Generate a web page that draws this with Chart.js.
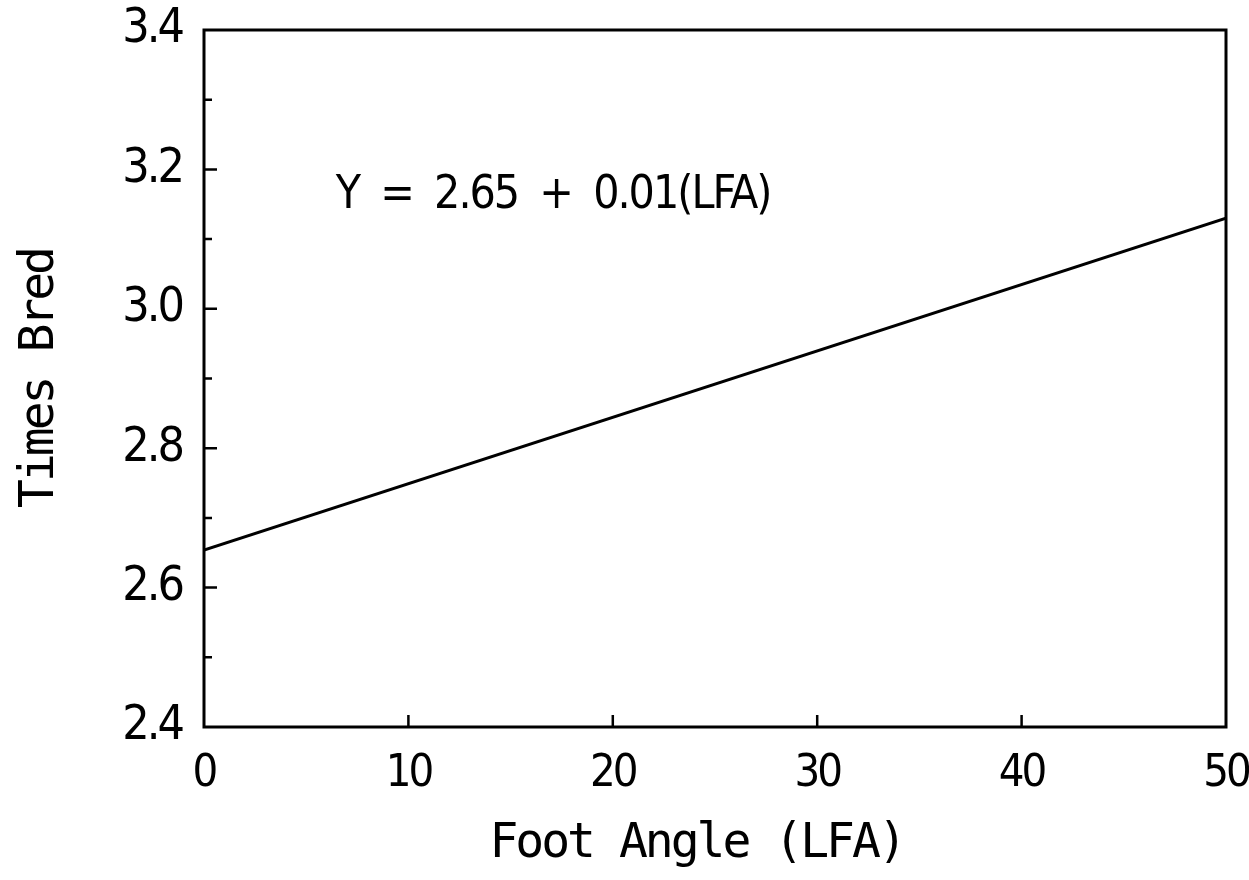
<!DOCTYPE html>
<html><head><meta charset="utf-8">
<script src="https://cdn.jsdelivr.net/npm/chart.js@4.4.1/dist/chart.umd.min.js"></script>
<style>html,body{margin:0;padding:0;background:#fff;}#wrap{width:1249px;height:880px;}</style>
</head><body><div id="wrap"><canvas id="c" width="1249" height="880"></canvas></div>
<script>
const footAngle = [0, 50];
const timesBred = [2.654, 3.13];
const xTicks = [0, 10, 20, 30, 40, 50];
const yTicks = [2.4, 2.6, 2.8, 3.0, 3.2, 3.4];
const yMinorTicks = [2.5, 2.7, 2.9, 3.1, 3.3];
const equationText = 'Y = 2.65 + 0.01(LFA)';
const equationPos = {x: 6.45, y: 3.162};
const xTitle = 'Foot Angle (LFA)';
const xTitleCenter = 24.1;
const yTitle = 'Times Bred';

const COND = '"DejaVu Sans Condensed", "DejaVu Sans", sans-serif';
const MONO = '"DejaVu Sans Mono", monospace';

const framePlugin = {
  id: 'frame',
  beforeDraw(chart) {
    chart.ctx.letterSpacing = '-3px';
  },
  afterDraw(chart) {
    const {ctx, chartArea: a, scales: {x, y}} = chart;
    ctx.save();
    ctx.strokeStyle = '#000';
    ctx.lineWidth = 3;
    ctx.strokeRect(a.left, a.top, a.right - a.left, a.bottom - a.top);
    ctx.lineWidth = 2.5;
    ctx.beginPath();
    xTicks.slice(1, -1).forEach(v => {
      const px = x.getPixelForValue(v);
      ctx.moveTo(px, a.bottom); ctx.lineTo(px, a.bottom - 12);
    });
    yTicks.slice(1, -1).forEach(v => {
      const py = y.getPixelForValue(v);
      ctx.moveTo(a.left, py); ctx.lineTo(a.left + 13, py);
    });
    yMinorTicks.forEach(v => {
      const py = y.getPixelForValue(v);
      ctx.moveTo(a.left, py); ctx.lineTo(a.left + 8, py);
    });
    ctx.stroke();
    ctx.fillStyle = '#000';
    ctx.letterSpacing = '-2px';
    ctx.wordSpacing = '10px';
    ctx.font = '46px ' + COND;
    ctx.textBaseline = 'middle';
    ctx.textAlign = 'left';
    ctx.fillText(equationText, x.getPixelForValue(equationPos.x), y.getPixelForValue(equationPos.y));
    ctx.wordSpacing = '0px';
    ctx.letterSpacing = '-3px';
    ctx.font = '48px ' + MONO;
    ctx.textAlign = 'center';
    ctx.fillText(xTitle, x.getPixelForValue(xTitleCenter), a.bottom + 118);
    ctx.restore();
    ctx.letterSpacing = '0px';
  }
};

new Chart(document.getElementById('c'), {
  type: 'scatter',
  data: {
    datasets: [{
      data: footAngle.map((v, i) => ({x: v, y: timesBred[i]})),
      showLine: true,
      borderColor: '#000',
      borderWidth: 3,
      pointRadius: 0,
      fill: false
    }]
  },
  options: {
    responsive: false,
    animation: false,
    layout: {padding: {top: 30, right: 23, left: 0, bottom: 0}},
    plugins: {legend: {display: false}, tooltip: {enabled: false}},
    scales: {
      x: {
        type: 'linear', min: 0, max: 50,
        afterBuildTicks(s) { s.ticks = xTicks.map(v => ({value: v})); },
        grid: {display: false},
        border: {display: false},
        ticks: {color: '#000', font: {family: COND, size: 45}, padding: 12, maxRotation: 0},
        title: {display: false, text: xTitle},
        afterFit(s) { s.height = 153; s.paddingLeft = 0; s.paddingRight = 0; }
      },
      y: {
        type: 'linear', min: 2.4, max: 3.4,
        afterBuildTicks(s) { s.ticks = yTicks.map(v => ({value: v})); },
        grid: {display: false},
        border: {display: false},
        ticks: {color: '#000', font: {family: COND, size: 48}, padding: 14, callback: v => v.toFixed(1)},
        title: {display: true, text: yTitle, color: '#000', font: {family: MONO, size: 48}, padding: {top: 12, bottom: 0}},
        afterFit(s) { s.width = 204; s.paddingTop = 0; s.paddingBottom = 0; }
      }
    }
  },
  plugins: [framePlugin]
});
</script></body></html>
